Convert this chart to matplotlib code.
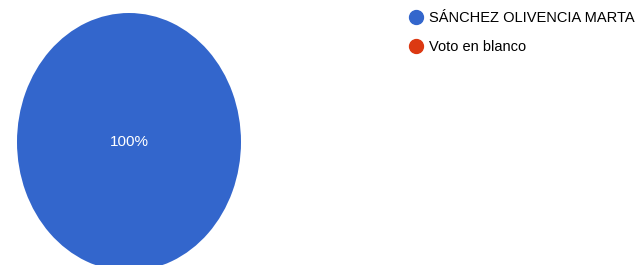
import matplotlib.pyplot as plt
from matplotlib.lines import Line2D

plt.rcParams['font.family'] = ['Liberation Sans', 'DejaVu Sans']

# datos
categorias = ['SÁNCHEZ OLIVENCIA MARTA', 'Voto en blanco']
votos = [100, 0]
colores = ['#3366cc', '#dc3912']

W, H = 644, 265
fig = plt.figure(figsize=(W / 100, H / 100), dpi=100)

# el grafico original esta algo aplastado en horizontal
ax = fig.add_axes([17 / W, -6 / H, 224 / W, 258 / H])
ax.pie(votos, colors=[colores[0], colores[1]], startangle=90, counterclock=False,
       autopct=lambda p: f'{p:.0f}%' if p > 0 else '',
       pctdistance=0.0, textprops={'color': 'white', 'fontsize': 11},
       wedgeprops={'linewidth': 0})
ax.set_aspect('auto')
ax.set_xlim(-1, 1)
ax.set_ylim(-1, 1)
ax.axis('off')

handles = [Line2D([], [], marker='o', linestyle='', markersize=10,
                  markerfacecolor=c, markeredgecolor=c) for c in colores]
fig.legend(handles, categorias, loc='upper left',
           bbox_to_anchor=(407 / W, 1 - 11 / H), frameon=False,
           fontsize=10.5, handletextpad=0.3, labelspacing=1.05,
           handlelength=1.2, borderaxespad=0, borderpad=0)

fig.savefig('out.png', dpi=100)
